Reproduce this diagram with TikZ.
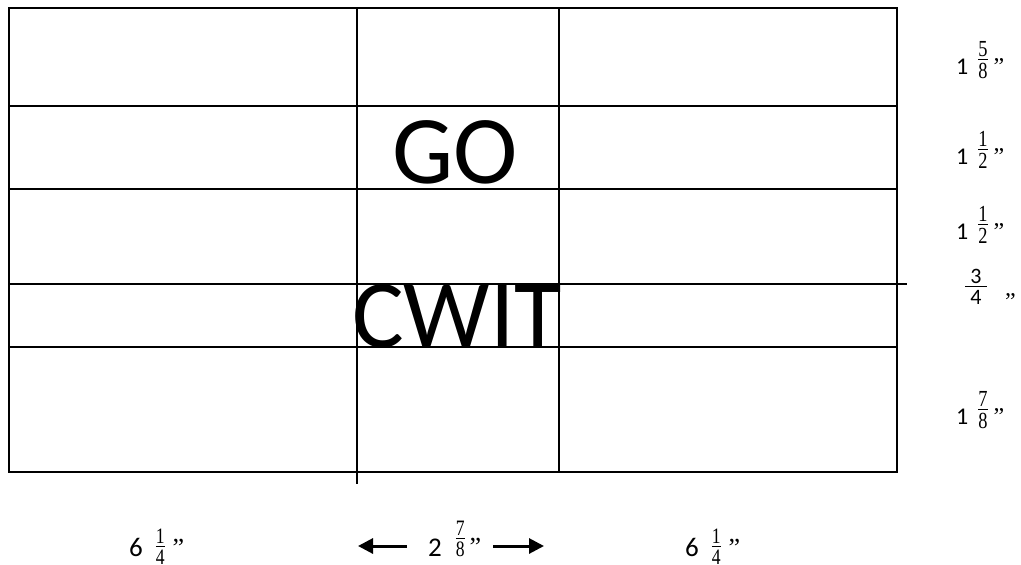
\documentclass[tikz,border=0pt]{standalone}
\usepackage{fontspec}
\usetikzlibrary{arrows.meta}
\newfontfamily\calf{Carlito}
\newfontfamily\tmsf{Liberation Serif}
% fraction digit (condensed Times)
\newcommand\frd[2]{\hbox{\scalebox{0.8}[1]{\tmsf\fontsize{#1}{#1}\selectfont #2}}}
% \fr{raise}{size}{num}{den}
\newcommand\fr[4]{\raisebox{#1}{\vbox{\offinterlineskip\frd{#2}{#3}\kern2.5pt\hrule height .8pt\kern3pt\frd{#2}{#4}}}}
\newcommand\qt[2]{\raisebox{#2}{\tmsf\fontsize{#1}{#1}\selectfont ”}}
\begin{document}
\begin{tikzpicture}[x=1pt,y=-1pt,
  gridline/.style={line width=1.8pt,black},
  thinline/.style={line width=1.5pt,black},
  big/.style={font=\calf\fontsize{97}{97}\selectfont,inner sep=0pt,anchor=base},
  rdim/.style={font=\calf\fontsize{24}{24}\selectfont,inner sep=0pt,anchor=base west},
  bdim/.style={font=\calf\fontsize{27}{27}\selectfont,inner sep=0pt,anchor=base west},
  arr/.style={line width=3pt,-{Triangle[length=15pt,width=15pt]}}]
\useasboundingbox (0,0) rectangle (1021,565);
\fill[white] (0,0) rectangle (1021,565);
% grid
\draw[gridline] (9,8) rectangle (897,472);
\draw[gridline] (9,106) -- (897,106);
\draw[gridline] (9,189) -- (897,189);
\draw[thinline] (9,284) -- (907,284);
\draw[gridline] (9,347) -- (897,347);
\draw[thinline] (357,8) -- (357,484);
\draw[thinline] (559,8) -- (559,472);
% big texts
\node[big] (go) at (455,183) {GO};
\node[big] (cwit) at (457,347) {CWIT};
% right dimensions
\node[rdim] (r1) at (956,74) {1\kern10pt\fr{-4pt}{23}{5}{8}\kern6pt\qt{24}{0pt}};
\node[rdim] (r2) at (956,164) {1\kern10pt\fr{-4pt}{23}{1}{2}\kern6pt\qt{24}{0pt}};
\node[rdim] (r3) at (956,239) {1\kern10pt\fr{-4pt}{23}{1}{2}\kern6pt\qt{24}{0pt}};
\node[inner sep=0pt,anchor=base,font=\calf\fontsize{22}{22}\selectfont] (r4) at (976,304)
  {\vbox{\offinterlineskip\hbox to 22pt{\hss 3\hss}\kern2.5pt\hrule height .9pt\kern3pt\hbox to 22pt{\hss 4\hss}}};
\node[inner sep=0pt,anchor=base west,font=\tmsf\fontsize{24}{24}\selectfont] (r4q) at (1005,309) {”};
\node[rdim] (r5) at (956,424) {1\kern10pt\fr{-4pt}{23}{7}{8}\kern6pt\qt{24}{0pt}};
% bottom dimensions
\node[bdim] (b1) at (129,556) {6\kern13pt\fr{-8pt}{22}{1}{4}\kern8pt\qt{26}{0pt}};
\node[bdim] (b2) at (428,556) {2\kern14pt\fr{0pt}{22}{7}{8}\kern5pt\qt{26}{1pt}};
\node[bdim] (b3) at (685,556) {6\kern13pt\fr{-8pt}{22}{1}{4}\kern8pt\qt{26}{0pt}};
\coordinate (ls) at (407,546);
\coordinate (lt) at (358,546);
\coordinate (rs) at (493,546);
\coordinate (rt) at (544,546);
\draw[arr] (ls) -- (lt);
\draw[arr] (rs) -- (rt);
\end{tikzpicture}
\end{document}
